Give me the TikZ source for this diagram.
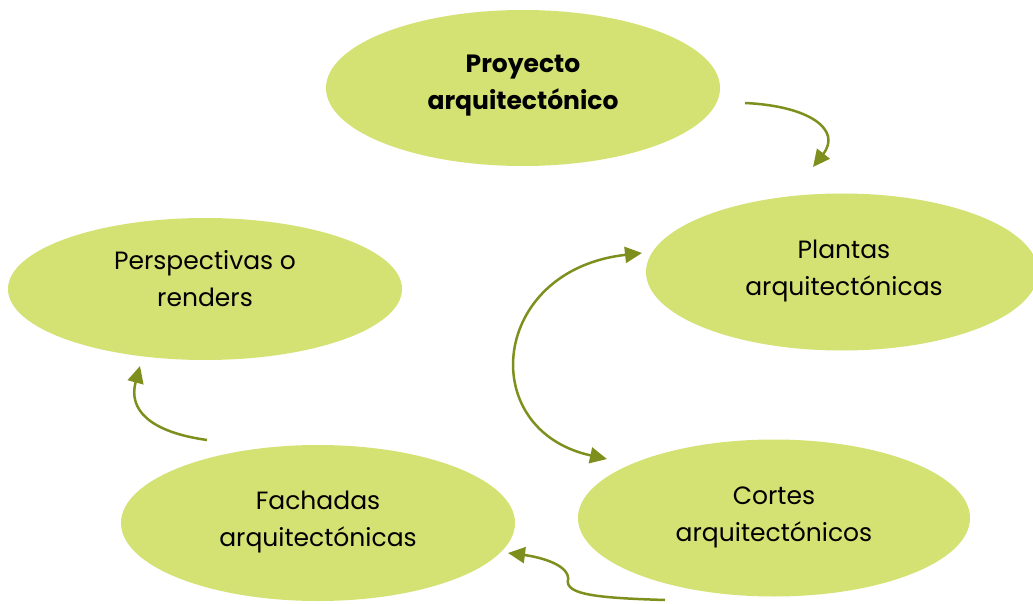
\documentclass[tikz,border=0pt]{standalone}
\usepackage{fontspec}
\setmainfont{Poppins}
\usetikzlibrary{shapes.geometric,arrows.meta}
\definecolor{fillg}{HTML}{D4E173}
\definecolor{arrowg}{HTML}{7F8F1E}
\tikzset{
  blob/.style={ellipse, fill=fillg, draw=none, inner sep=0pt},
  txt/.style={align=center, inner sep=0pt, font=\fontsize{25}{37}\selectfont},
  conn/.style={draw=arrowg, line width=2.5pt, -{Triangle[length=17pt,width=16pt]}},
}
\begin{document}
\begin{tikzpicture}[x=1pt,y=-1pt]
\useasboundingbox (0,0) rectangle (1033,604);
\node[blob, minimum width=394pt, minimum height=156pt,
  label={[txt, yshift=2pt]center:\textbf{Proyecto}\\\textbf{arquitectónico}}] (proy) at (523,88) {};
\node[blob, minimum width=392pt, minimum height=157pt,
  label={[txt, yshift=1pt, xshift=2pt]center:Plantas\\arquitectónicas}] (plan) at (842,272) {};
\node[blob, minimum width=394pt, minimum height=142pt,
  label={[txt, yshift=10pt]center:Perspectivas o\\renders}] (pers) at (205,289) {};
\node[blob, minimum width=394pt, minimum height=156pt,
  label={[txt, yshift=1pt]center:Fachadas\\arquitectónicas}] (fach) at (318,523) {};
\node[blob, minimum width=392pt, minimum height=157pt,
  label={[txt, yshift=1pt]center:Cortes\\arquitectónicos}] (cort) at (774,518) {};
\coordinate (a1s) at (745,103);
\coordinate (a1e) at (813,167);
\coordinate (a2s) at (642,253);
\coordinate (a2e) at (607,459);
\coordinate (a3s) at (207,440);
\coordinate (a3e) at (140,366);
\coordinate (a4s) at (665,600);
\coordinate (a4m) at (568,580);
\coordinate (a4e) at (508,553);
\draw[conn] (a1s) .. controls (810,106) and (842,130) .. (a1e);
\draw[conn,{Triangle[length=17pt,width=16pt]}-{Triangle[length=17pt,width=16pt]}] (a2s) .. controls (490,270) and (475,430) .. (a2e);
\draw[conn] (a3s) .. controls (150,432) and (128,410) .. (a3e);
\draw[conn] (a4s) .. controls (600,598) and (565,595) .. (a4m) .. controls (570,565) and (540,557) .. (a4e);
\end{tikzpicture}
\end{document}
